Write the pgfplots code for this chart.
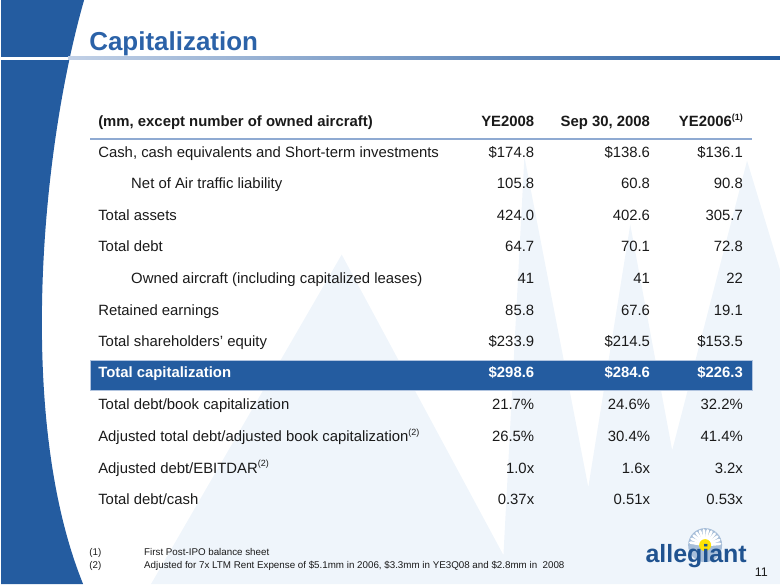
\documentclass[border=0pt]{standalone}
\usepackage{pgfplots}
\pgfplotsset{compat=1.18}
\usepackage{fontspec}
\setmainfont{Liberation Sans}
\definecolor{slideblue}{HTML}{245CA0}
\definecolor{titleblue}{HTML}{2B62A8}
\definecolor{rulelight}{HTML}{8FAAD2}
\definecolor{txt}{HTML}{1A1A1A}
\definecolor{wm}{HTML}{EFF5FB}
\newcommand{\bodyfont}{\fontsize{14.9}{16}\selectfont}
\newcommand{\sups}[1]{\raisebox{0.42em}{\fontsize{9}{9}\selectfont(#1)}}
\newcommand{\row}[6]{%
  \node[anchor=base west,text=txt,font=\bodyfont] at (axis cs:#2,#1) {#3};
  \node[anchor=base east,text=txt,font=\bodyfont] at (axis cs:534,#1) {#4};
  \node[anchor=base east,text=txt,font=\bodyfont] at (axis cs:650,#1) {#5};
  \node[anchor=base east,text=txt,font=\bodyfont] at (axis cs:743,#1) {#6};
}
\begin{document}
\begin{tikzpicture}[every node/.style={inner sep=0pt}]
\begin{axis}[width=780pt,height=585pt,scale only axis,
  xmin=0,xmax=780,ymin=0,ymax=585,y dir=reverse,
  axis lines=none,clip=false]
% faint watermark sunburst
\fill[wm] (axis cs:150,585) -- (axis cs:341,255) -- (axis cs:503,556) -- (axis cs:524,157) -- (axis cs:588,488) -- (axis cs:630,225) -- (axis cs:672,451) -- (axis cs:747,161) -- (axis cs:780,270) -- (axis cs:780,585) -- cycle;
% left blue band
\fill[slideblue] (axis cs:0,0) -- (axis cs:83,0) .. controls (axis cs:40,150) and (axis cs:15,420) .. (axis cs:82,585) -- (axis cs:0,585) -- cycle;
\draw[white,line width=2.5pt] (axis cs:0,58.5) -- (axis cs:70,58.5);
\shade[left color=rulelight!55,right color=slideblue] (axis cs:67,57) rectangle (axis cs:780,60);
% title
\node[anchor=base west,text=titleblue,font=\fontsize{26}{28}\selectfont\bfseries] at (axis cs:88,51) {Capitalization};
% header
\node[anchor=base west,text=txt,font=\bodyfont\bfseries] at (axis cs:97,126.7) {(mm, except number of owned aircraft)};
\node[anchor=base east,text=txt,font=\bodyfont\bfseries] at (axis cs:534,126.7) {YE2008};
\node[anchor=base east,text=txt,font=\bodyfont\bfseries] at (axis cs:650,126.7) {Sep 30, 2008};
\node[anchor=base east,text=txt,font=\bodyfont\bfseries] at (axis cs:743,126.7) {YE2006\sups{1}};
\draw[rulelight,line width=1.6pt] (axis cs:89,139) -- (axis cs:752,139);
% rows
\row{157.3}{97}{Cash, cash equivalents and Short-term investments}{\$174.8}{\$138.6}{\$136.1}
\row{189.0}{130}{Net of Air traffic liability}{105.8}{60.8}{90.8}
\row{220.6}{97}{Total assets}{424.0}{402.6}{305.7}
\row{252.3}{97}{Total debt}{64.7}{70.1}{72.8}
\row{284.0}{130}{Owned aircraft (including capitalized leases)}{41}{41}{22}
\row{315.6}{97}{Retained earnings}{85.8}{67.6}{19.1}
\row{347.3}{97}{Total shareholders’ equity}{\$233.9}{\$214.5}{\$153.5}
% total capitalization band
\fill[slideblue] (axis cs:89,361) rectangle (axis cs:752,391.5);
\draw[rulelight!70,line width=0.8pt] (axis cs:89,361) rectangle (axis cs:752,391.5);
\node[anchor=base west,text=white,font=\bodyfont\bfseries] at (axis cs:97,378.5) {Total capitalization};
\node[anchor=base east,text=white,font=\bodyfont\bfseries] at (axis cs:534,378.5) {\$298.6};
\node[anchor=base east,text=white,font=\bodyfont\bfseries] at (axis cs:650,378.5) {\$284.6};
\node[anchor=base east,text=white,font=\bodyfont\bfseries] at (axis cs:743,378.5) {\$226.3};
\row{410.6}{97}{Total debt/book capitalization}{21.7\%}{24.6\%}{32.2\%}
\row{442.3}{97}{Adjusted total debt/adjusted book capitalization\sups{2}}{26.5\%}{30.4\%}{41.4\%}
\row{474.0}{97}{Adjusted debt/EBITDAR\sups{2}}{1.0x}{1.6x}{3.2x}
\row{505.7}{97}{Total debt/cash}{0.37x}{0.51x}{0.53x}
% footnotes
\node[anchor=base west,text=txt,font=\fontsize{9.8}{11}\selectfont] at (axis cs:88,556) {(1)};
\node[anchor=base west,text=txt,font=\fontsize{9.8}{11}\selectfont] at (axis cs:143,556) {First Post-IPO balance sheet};
\node[anchor=base west,text=txt,font=\fontsize{9.8}{11}\selectfont] at (axis cs:88,569.5) {(2)};
\node[anchor=base west,text=txt,font=\fontsize{9.8}{11}\selectfont] at (axis cs:143,569.5) {Adjusted for 7x LTM Rent Expense of \$5.1mm in 2006, \$3.3mm in YE3Q08 and \$2.8mm in~ 2008};
% logo
\fill[slideblue!40] (axis cs:705,546) circle[radius=17];
\pgfplotsinvokeforeach{5,20,...,175}{\draw[white,line width=2.6pt,line cap=round] (axis cs:{705+6*cos(#1)},{546-6*sin(#1)}) -- (axis cs:{705+15*cos(#1)},{546-15*sin(#1)});}
\fill[yellow!85!orange] (axis cs:705,546) circle[radius=6];
\node[anchor=base,text=slideblue!90!black,font=\fontsize{25}{28}\selectfont\bfseries] at (axis cs:696,563) {allegiant};
\node[anchor=base east,text=txt,font=\fontsize{12.5}{14}\selectfont] at (axis cs:768,577) {11};
\end{axis}
\end{tikzpicture}
\end{document}
